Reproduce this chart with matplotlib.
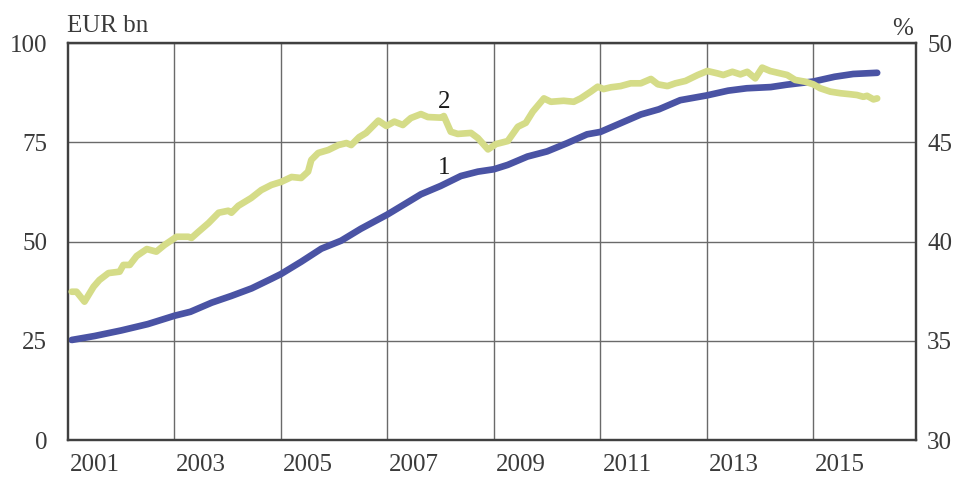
import numpy as np
import matplotlib.pyplot as plt

# series 1: EUR bn (left axis)
years_1 = [2001.07, 2001.5, 2002.0, 2002.5, 2003.0, 2003.3, 2003.7, 2004.07, 2004.45,
           2004.82, 2005.0, 2005.38, 2005.76, 2006.13, 2006.5, 2007.0, 2007.26, 2007.63,
           2008.0, 2008.38, 2008.7, 2009.0, 2009.26, 2009.63, 2010.0, 2010.38, 2010.75,
           2011.0, 2011.38, 2011.76, 2012.1, 2012.5, 2013.0, 2013.4, 2013.75, 2014.2,
           2014.5, 2015.0, 2015.4, 2015.75, 2016.2]
eur_bn = [25.2, 26.2, 27.6, 29.2, 31.3, 32.3, 34.6, 36.3, 38.2,
          40.6, 41.8, 44.9, 48.2, 50.2, 53.2, 56.8, 58.9, 61.9,
          64.0, 66.5, 67.6, 68.2, 69.3, 71.4, 72.7, 74.8, 77.0,
          77.6, 79.8, 82.0, 83.3, 85.6, 86.8, 88.0, 88.6, 88.9,
          89.5, 90.3, 91.5, 92.2, 92.5]

# series 2: % (right axis)
years_2 = [2001.07, 2001.16, 2001.31, 2001.48, 2001.59, 2001.76, 2001.97, 2002.04, 2002.16,
           2002.29, 2002.48, 2002.66, 2002.81, 2003.04, 2003.26, 2003.32, 2003.45, 2003.64,
           2003.83, 2004.01, 2004.07, 2004.2, 2004.44, 2004.63, 2004.82, 2005.01, 2005.2,
           2005.38, 2005.51, 2005.57, 2005.70, 2005.89, 2006.08, 2006.23, 2006.32, 2006.47,
           2006.60, 2006.83, 2006.98, 2007.13, 2007.29, 2007.44, 2007.63, 2007.76, 2008.01,
           2008.06, 2008.19, 2008.32, 2008.57, 2008.70, 2008.89, 2009.04, 2009.26, 2009.45,
           2009.60, 2009.73, 2009.94, 2010.07, 2010.31, 2010.50, 2010.63, 2010.82, 2010.95,
           2011.06, 2011.20, 2011.38, 2011.57, 2011.76, 2011.95, 2012.08, 2012.26, 2012.41,
           2012.60, 2012.83, 2013.01, 2013.20, 2013.31, 2013.48, 2013.63, 2013.76, 2013.91,
           2014.04, 2014.19, 2014.38, 2014.51, 2014.66, 2014.85, 2015.00, 2015.13, 2015.32,
           2015.51, 2015.69, 2015.82, 2015.94, 2016.01, 2016.13, 2016.20]
share_pct = [37.47, 37.47, 36.97, 37.72, 38.06, 38.41, 38.48, 38.82, 38.82,
             39.27, 39.62, 39.49, 39.82, 40.24, 40.24, 40.18, 40.49, 40.93,
             41.45, 41.55, 41.45, 41.80, 42.19, 42.59, 42.85, 43.01, 43.25,
             43.20, 43.52, 44.11, 44.46, 44.61, 44.86, 44.96, 44.86, 45.26,
             45.47, 46.09, 45.82, 46.04, 45.87, 46.22, 46.42, 46.27, 46.24,
             46.32, 45.53, 45.42, 45.47, 45.21, 44.64, 44.91, 45.06, 45.78,
             45.98, 46.54, 47.21, 47.04, 47.09, 47.04, 47.21, 47.55, 47.80,
             47.68, 47.77, 47.83, 47.97, 47.97, 48.19, 47.92, 47.83, 47.97,
             48.09, 48.39, 48.59, 48.47, 48.39, 48.55, 48.42, 48.55, 48.22,
             48.76, 48.59, 48.47, 48.39, 48.14, 48.05, 47.92, 47.72, 47.55,
             47.47, 47.42, 47.38, 47.29, 47.34, 47.16, 47.21]

grid_years = [2003, 2005, 2007, 2009, 2011, 2013, 2015]
label_years = [2001, 2003, 2005, 2007, 2009, 2011, 2013, 2015]

txt = '#3a3a3a'
plt.rcParams['font.family'] = ['Liberation Serif', 'DejaVu Serif']
plt.rcParams['font.size'] = 18

fig = plt.figure(figsize=(9.55, 4.79), dpi=100)
ax = fig.add_axes([0.0712, 0.0814, 0.888, 0.8288])
ax2 = ax.twinx()

ax.plot(years_1, eur_bn, color='#4a53a4', lw=4.8, solid_capstyle='round', zorder=3)
ax2.plot(years_2, share_pct, color='#d5dc88', lw=4.8, solid_capstyle='round', zorder=3)

ax.set_xlim(2001.0, 2016.93)
ax.set_ylim(0, 100)
ax2.set_ylim(30, 50)

ax.set_yticks([0, 25, 50, 75, 100])
ax2.set_yticks([30, 35, 40, 45, 50])
ax.set_xticks(grid_years)
ax.set_xticklabels([])
ax.set_xticks([y + 0.5 for y in label_years], minor=True)
ax.set_xticklabels([str(y) for y in label_years], minor=True)

ax.grid(True, which='major', color='#6a6a6a', lw=1.0)
ax.tick_params(axis='x', which='both', length=0, pad=10, colors=txt)
ax.tick_params(axis='y', length=0, pad=15, colors=txt)
ax2.tick_params(axis='y', length=0, pad=8, colors=txt)

for a in (ax, ax2):
    for s in a.spines.values():
        s.set_color('#404040')
        s.set_linewidth(1.6)

# keep series 2 above the grid of axis 1
ax.set_zorder(ax2.get_zorder() - 1)
ax.patch.set_visible(False)

ax.text(2008.07, 68.5, '1', ha='center', va='center', color='#1a1a1a', fontsize=18)
ax.text(2008.07, 85.2, '2', ha='center', va='center', color='#1a1a1a', fontsize=18)

fig.text(67 / 955, 1 - 32 / 479, 'EUR bn', ha='left', va='baseline', color=txt, fontsize=18)
fig.text(913 / 955, 1 - 35 / 479, '%', ha='right', va='baseline', color=txt, fontsize=18)

fig.savefig('out.png', dpi=100)
